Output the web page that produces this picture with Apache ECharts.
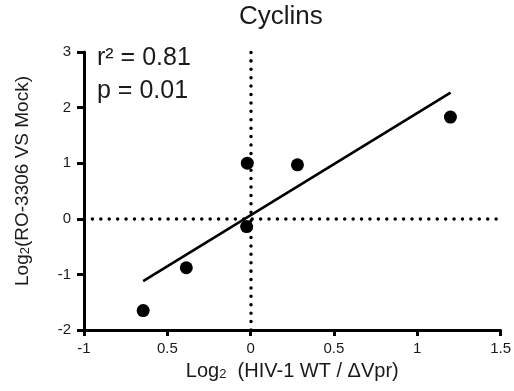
<!DOCTYPE html>
<html>
<head>
<meta charset="utf-8">
<script src="https://cdn.jsdelivr.net/npm/echarts@6/dist/echarts.min.js"></script>
<style>
  html, body {margin: 0; padding: 0; background: #fff;}
  #chart {width: 514px; height: 391px;}
</style>
</head>
<body>
<div id="chart"></div>
<script>
// values
const pointsX = [-0.645, -0.386, -0.024, -0.02, 0.281, 1.199];
const pointsY = [-1.65, -0.88, -0.14, 1.0, 0.97, 1.83];
const fitX = [-0.645, 1.2];
const fitY = [-1.12, 2.27];
const xTickLabels = ['-1', '0.5', '0', '0.5', '1', '1.5'];
const yTickLabels = ['-2', '-1', '0', '1', '2', '3'];
const statsText = ['r\u00b2 = 0.81', 'p = 0.01'];

const font = 'Liberation Sans, Arial, sans-serif';
const ink = '#1a1a1a';

const myChart = echarts.init(document.getElementById('chart'));
myChart.setOption({
    animation: false,
    textStyle: {fontFamily: font, color: ink},
    title: {
        text: 'Cyclins',
        left: 234,
        top: -1,
        textStyle: {fontFamily: font, fontSize: 26, fontWeight: 'normal', color: ink}
    },
    grid: {left: 84, right: 13, top: 52, bottom: 61},
    xAxis: {
        type: 'value',
        min: -1,
        max: 1.5,
        interval: 0.5,
        splitLine: {show: false},
        axisLine: {show: true, onZero: false, lineStyle: {color: '#000', width: 3}},
        axisTick: {show: true, length: 6, lineStyle: {color: '#000', width: 3}},
        axisLabel: {
            margin: 11,
            fontSize: 15,
            color: ink,
            formatter(val, idx) {
                return xTickLabels[idx];
            }
        },
        name: 'Log{s|2}  (HIV-1 WT / \u0394Vpr)',
        nameLocation: 'middle',
        nameGap: 31,
        nameTextStyle: {
            fontSize: 20,
            color: ink,
            rich: {s: {fontSize: 13, verticalAlign: 'bottom', color: ink}}
        }
    },
    yAxis: {
        type: 'value',
        min: -2,
        max: 3,
        interval: 1,
        splitLine: {show: false},
        axisLine: {show: true, onZero: false, lineStyle: {color: '#000', width: 3}},
        axisTick: {show: true, length: 7, lineStyle: {color: '#000', width: 3}},
        axisLabel: {
            margin: 13,
            fontSize: 15,
            color: ink,
            formatter(val, idx) {
                return yTickLabels[idx];
            }
        },
        name: 'Log{s|2}(RO-3306 VS Mock)',
        nameLocation: 'middle',
        nameGap: 52,
        nameTextStyle: {
            fontSize: 19,
            color: ink,
            padding: [0, 0, 0, 20],
            rich: {s: {fontSize: 13, verticalAlign: 'bottom', color: ink}}
        }
    },
    graphic: [
        {
            type: 'text',
            left: 97,
            top: 46,
            style: {text: statsText[0], fontSize: 25, fontFamily: font, fill: ink}
        },
        {
            type: 'text',
            left: 97,
            top: 79,
            style: {text: statsText[1], fontSize: 25, fontFamily: font, fill: ink}
        }
    ],
    series: [
        {
            type: 'line',
            data: fitX.map((x, i) => [x, fitY[i]]),
            symbol: 'none',
            lineStyle: {color: '#000', width: 2.6},
            z: 3,
            markLine: {
                silent: true,
                symbol: 'none',
                label: {show: false},
                lineStyle: {color: '#000', width: 3.5, type: [0.01, 8.4], cap: 'round', opacity: 1},
                data: [{xAxis: 0}, {yAxis: 0}]
            }
        },
        {
            type: 'scatter',
            data: pointsX.map((x, i) => [x, pointsY[i]]),
            symbolSize: 13,
            itemStyle: {color: '#000', opacity: 1},
            z: 4
        }
    ]
});
</script>
</body>
</html>
